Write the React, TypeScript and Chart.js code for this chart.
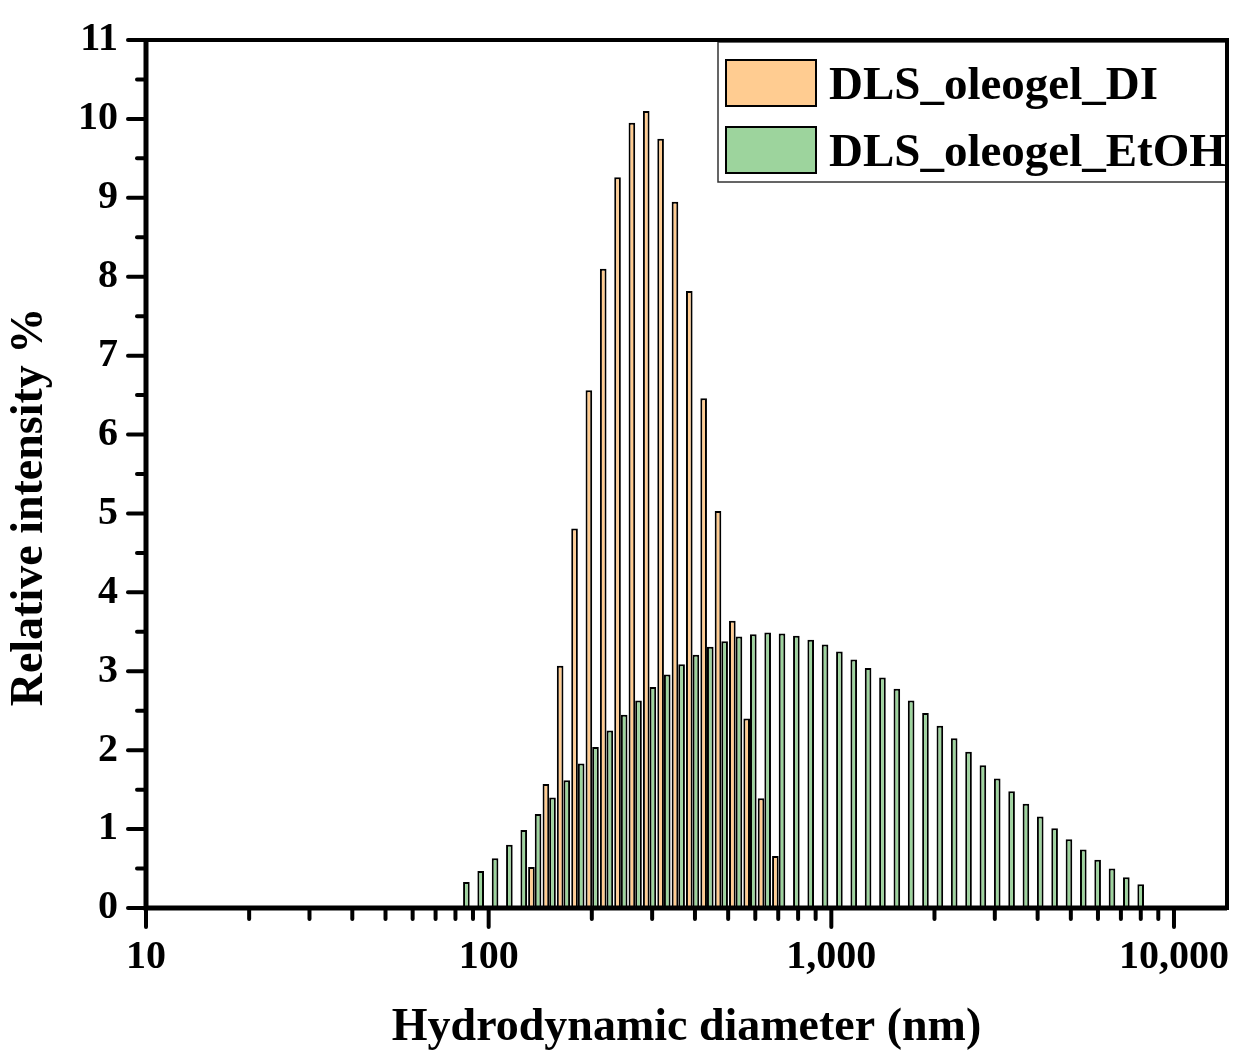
import { useEffect, useRef } from 'react';
import { Chart, registerables } from 'chart.js';

Chart.register(...registerables);

// bin centres (nm)
const diameters = [
  84.2, 92.7, 102.1, 112.4, 123.8, 136.3, 150.2, 165.3, 182.1, 200.5,
  220.8, 243.1, 267.7, 294.8, 324.7, 357.6, 393.7, 433.6, 477.5, 525.8,
  579.0, 637.6, 702.1, 773.2, 851.5, 937.6, 1032.5, 1137, 1252, 1379,
  1519, 1672, 1841, 2028, 2233, 2459, 2708, 2982, 3284, 3616,
  3981, 4385, 4829, 5317, 5855, 6448, 7100, 7819,
];

const diIntensity = [
  null, null, null, null, null, 0.52, 1.57, 3.07, 4.81, 6.56,
  8.10, 9.26, 9.95, 10.10, 9.75, 8.95, 7.82, 6.46, 5.03, 3.64,
  2.40, 1.39, 0.66, null, null, null, null, null, null, null,
  null, null, null, null, null, null, null, null, null, null,
  null, null, null, null, null, null, null, null,
];

const etohIntensity = [
  0.33, 0.47, 0.63, 0.80, 0.99, 1.19, 1.40, 1.62, 1.83, 2.04,
  2.25, 2.45, 2.63, 2.80, 2.96, 3.09, 3.21, 3.31, 3.38, 3.44,
  3.47, 3.49, 3.48, 3.45, 3.40, 3.34, 3.25, 3.15, 3.04, 2.92,
  2.78, 2.63, 2.47, 2.31, 2.15, 1.98, 1.81, 1.64, 1.48, 1.32,
  1.16, 1.01, 0.87, 0.74, 0.61, 0.50, 0.39, 0.30,
];

const seriesNames = ['DLS_oleogel_DI', 'DLS_oleogel_EtOH'];
const seriesColors = ['#FFCC91', '#9DD49D'];
const xTitle = 'Hydrodynamic diameter (nm)';
const yTitle = 'Relative intensity %';

const FONT = '"Liberation Serif", "Times New Roman", serif';

const isDecade = (v: number) => Math.abs(Math.log10(v) - Math.round(Math.log10(v))) < 1e-9;

// legend, frame, outward ticks, tick labels and axis titles
const decorPlugin = {
  id: 'decor',
  afterDatasetsDraw(chart: any) {
    const { ctx, chartArea: a, scales } = chart;
    const xs = scales.x;
    const ys = scales.y;
    ctx.save();

    // legend inside the plot, top right
    const lx = 718, ly = 42, lw = a.right - lx, lh = 140;
    ctx.fillStyle = '#fff';
    ctx.fillRect(lx, ly, lw, lh);
    ctx.strokeStyle = '#333';
    ctx.lineWidth = 1.5;
    ctx.strokeRect(lx, ly, lw, lh);
    chart.data.datasets.forEach((ds: any, i: number) => {
      const top = 60 + i * 67;
      ctx.fillStyle = ds.backgroundColor;
      ctx.fillRect(726, top, 90, 46);
      ctx.strokeStyle = '#000';
      ctx.lineWidth = 2;
      ctx.strokeRect(726, top, 90, 46);
      ctx.fillStyle = '#000';
      ctx.font = `bold 47px ${FONT}`;
      ctx.textAlign = 'left';
      ctx.textBaseline = 'alphabetic';
      ctx.fillText(ds.label, 829, top + 39);
    });

    // frame: thicker on the two axes
    ctx.strokeStyle = '#000';
    ctx.lineWidth = 4;
    ctx.strokeRect(a.left, a.top, a.right - a.left, a.bottom - a.top);
    ctx.lineWidth = 5;
    ctx.beginPath();
    ctx.moveTo(a.left, a.top);
    ctx.lineTo(a.left, a.bottom);
    ctx.lineTo(a.right, a.bottom);
    ctx.stroke();

    // x ticks (log, minor at 2..9)
    ctx.lineWidth = 4;
    ctx.lineCap = 'round';
    ctx.fillStyle = '#000';
    ctx.font = `bold 40px ${FONT}`;
    for (let e = 1; e <= 4; e++) {
      for (let m = 1; m <= 9; m++) {
        const v = m * Math.pow(10, e);
        if (v > xs.max) continue;
        const px = xs.getPixelForValue(v);
        const len = m === 1 ? 19 : 11;
        ctx.beginPath();
        ctx.moveTo(px, a.bottom);
        ctx.lineTo(px, a.bottom + len);
        ctx.stroke();
      }
    }
    ctx.textAlign = 'center';
    ctx.textBaseline = 'alphabetic';
    xs.ticks.forEach((t: any) => {
      if (!isDecade(t.value)) return;
      ctx.fillText(t.value.toLocaleString('en-US'), xs.getPixelForValue(t.value), 968);
    });

    // y ticks (minor at halves)
    for (let v = 0; v <= ys.max + 1e-9; v += 0.5) {
      const py = ys.getPixelForValue(v);
      const len = Number.isInteger(v) ? 18 : 9;
      ctx.beginPath();
      ctx.moveTo(a.left, py);
      ctx.lineTo(a.left - len, py);
      ctx.stroke();
    }
    ctx.textAlign = 'right';
    ctx.textBaseline = 'middle';
    ys.ticks.forEach((t: any) => {
      ctx.fillText(String(t.value), 118, ys.getPixelForValue(t.value));
    });

    // axis titles
    ctx.font = `bold 46px ${FONT}`;
    ctx.textAlign = 'center';
    ctx.textBaseline = 'alphabetic';
    ctx.fillText(xTitle, (a.left + a.right) / 2, 1040);
    ctx.translate(42, 507);
    ctx.rotate(-Math.PI / 2);
    ctx.fillText(yTitle, 0, 0);
    ctx.restore();
  },
};

export default function App() {
  const canvasRef = useRef<HTMLCanvasElement>(null);

  useEffect(() => {
    document.body.style.margin = '0';
    if (!canvasRef.current) return;

    const chart = new Chart(canvasRef.current, {
      type: 'bar',
      data: {
        datasets: [
          {
            label: seriesNames[0],
            data: diameters
              .map((d, i) => ({ x: d, y: diIntensity[i] }))
              .filter((p) => p.y !== null) as any,
            backgroundColor: seriesColors[0],
            borderColor: '#000',
            borderWidth: 2,
          },
          {
            label: seriesNames[1],
            data: diameters.map((d, i) => ({ x: d, y: etohIntensity[i] })) as any,
            backgroundColor: seriesColors[1],
            borderColor: '#000',
            borderWidth: 2,
          },
        ],
      },
      plugins: [decorPlugin],
      options: {
        responsive: false,
        animation: false,
        devicePixelRatio: 1,
        layout: { padding: { top: 40, right: 13, left: 0, bottom: 0 } },
        datasets: {
          bar: { categoryPercentage: 0.93, barPercentage: 1 },
        },
        plugins: {
          legend: { display: false },
          tooltip: { enabled: false },
        },
        scales: {
          x: {
            type: 'logarithmic',
            min: 10,
            max: 14280,
            grid: { display: false, drawTicks: false },
            border: { display: false },
            ticks: { display: false },
            afterFit: (s: any) => {
              s.height = 146;
            },
          },
          y: {
            min: 0,
            max: 11,
            grid: { display: false, drawTicks: false },
            border: { display: false },
            ticks: { display: false, stepSize: 1 },
            afterFit: (s: any) => {
              s.width = 146;
            },
          },
        },
      },
    });

    return () => chart.destroy();
  }, []);

  return <canvas ref={canvasRef} width={1240} height={1054} style={{ display: 'block' }} />;
}
